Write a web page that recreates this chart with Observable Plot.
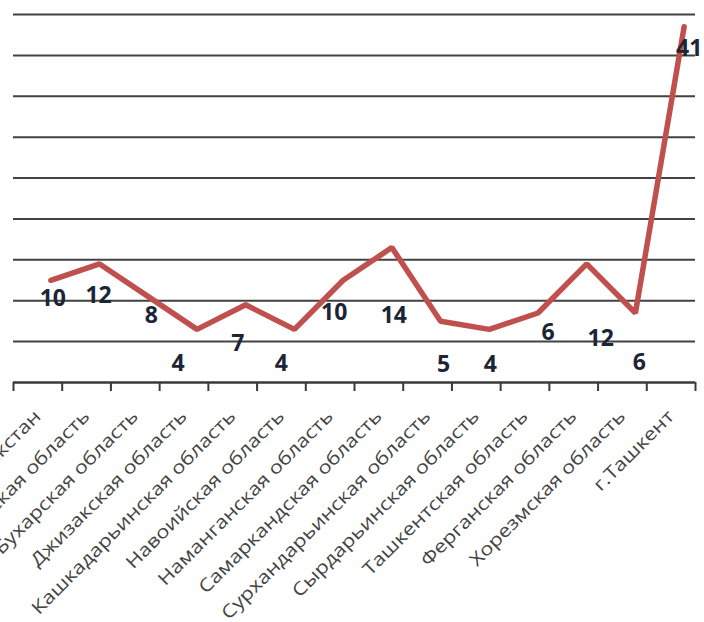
<!DOCTYPE html>
<html>
<head>
<meta charset="utf-8">
<script src="https://cdn.jsdelivr.net/npm/d3@7"></script>
<script src="https://cdn.jsdelivr.net/npm/@observablehq/plot@0.6"></script>
<style>
  html, body { margin: 0; padding: 0; background: #fff; overflow: hidden; }
  #chart svg { display: block; overflow: hidden; }
</style>
</head>
<body>
<div id="chart"></div>
<script>
// ---- data ----
const regions = [
  "Республика Каракалпакстан",
  "Андижанская область",
  "Бухарская область",
  "Джизакская область",
  "Кашкадарьинская область",
  "Навоийская область",
  "Наманганская область",
  "Самаркандская область",
  "Сурхандарьинская область",
  "Сырдарьинская область",
  "Ташкентская область",
  "Ферганская область",
  "Хорезмская область",
  "г.Ташкент"
];
const values = [10, 12, 8, 4, 7, 4, 10, 14, 5, 4, 6, 12, 6, 41];
const gridValues = [2.5, 7.5, 12.5, 17.5, 22.5, 27.5, 32.5, 37.5, 42.5];
const yDomain = [-2.5, 42.5];

// ---- layout (label offsets in px, relative to each point's category centre) ----
const labelDx = [15, 12, 16, -6, 5, 0, 4, 15, 16, 14, 23, 27, 17, 18];
const labelDy = [18, 32, 19, 34, 39, 34, 32, 68, 43, 35, 20, 75, 50, 22];

const rows = regions.map((r, i) => ({i, region: r, value: values[i]}));
const tickPos = d3.range(regions.length + 1).map(k => k - 0.5);

const W = 704, H = 622;
const lineColor = "#c0504d";
const labelColor = "#1c2536";

const valueLabels = rows.map((d, i) =>
  Plot.text([d], {
    x: "i", y: "value", text: d => String(d.value),
    dx: labelDx[i], dy: labelDy[i],
    fill: labelColor, fontSize: 23, fontWeight: "bold",
    fontFamily: "Open Sans"
  })
);

const plot = Plot.plot({
  width: W,
  height: H,
  marginLeft: 13,
  marginRight: 9,
  marginTop: 14,
  marginBottom: 240,
  style: {fontFamily: "Open Sans", background: "#fff"},
  x: {type: "linear", domain: [-0.5, regions.length - 0.5], axis: null},
  y: {domain: yDomain, axis: null},
  marks: [
    Plot.ruleY(gridValues, {stroke: "#2e2e2e", strokeWidth: 2, strokeOpacity: 0.9}),
    Plot.ruleY([yDomain[0]], {stroke: "#3a3a3a", strokeWidth: 2.5}),
    Plot.axisX({
      ticks: tickPos, tickSize: 9, tickFormat: () => "", label: null,
      stroke: "#3a3a3a", strokeWidth: 2, strokeOpacity: 1
    }),
    Plot.line(rows, {
      x: "i", y: "value", dx: 13,
      stroke: lineColor, strokeWidth: 5.5, strokeLinejoin: "miter"
    }),
    ...valueLabels,
    Plot.text(rows, {
      x: "i", y: () => yDomain[0], text: "region",
      rotate: -45, textAnchor: "end",
      dx: 0, dy: 31,
      fill: "#444", fontSize: 18, fontFamily: "Open Sans",
      className: "cat-labels"
    })
  ]
});

// glyphs of the category labels are a little wider along the baseline, as in the reference
d3.select(plot).selectAll(".cat-labels text").each(function () {
  const t = this.getAttribute("transform") || "";
  this.setAttribute("transform", t.replace(/rotate\((-?[\d.]+)\)/, "rotate($1) scale(1.2,1)"));
});

document.getElementById("chart").appendChild(plot);
</script>
</body>
</html>
